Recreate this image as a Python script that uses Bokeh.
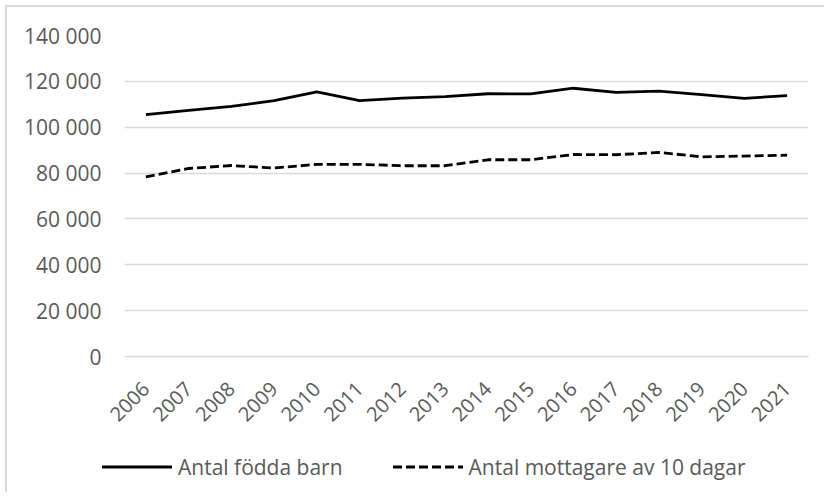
from bokeh.plotting import figure
from bokeh.layouts import column
from bokeh.models import FactorRange, Range1d, FixedTicker, CustomJSTickFormatter, Div
from bokeh.embed import file_html
from bokeh.resources import INLINE
import math

years = ["2006", "2007", "2008", "2009", "2010", "2011", "2012", "2013",
         "2014", "2015", "2016", "2017", "2018", "2019", "2020", "2021"]
fodda_barn = [105500, 107300, 109100, 111600, 115400, 111600, 112700, 113300,
              114600, 114500, 117000, 115200, 115700, 114200, 112600, 113800]
mottagare_10_dagar = [78300, 82000, 83300, 82200, 83800, 83800, 83200, 83200,
                      85800, 85800, 88100, 88000, 89000, 87100, 87400, 87800]
y_ticks = [0, 20000, 40000, 60000, 80000, 100000, 120000, 140000]
series_names = ["Antal födda barn", "Antal mottagare av 10 dagar"]

FONT = "Open Sans"
TXT = "#595959"
GRID = "#d9d9d9"
LW = 2.8
DASH = "9 4"

p = figure(width=817, height=423, output_backend="svg", toolbar_location=None,
           x_range=FactorRange(factors=years, range_padding=0),
           y_range=Range1d(0, 140000),
           min_border_left=117, min_border_right=16, min_border_top=28, min_border_bottom=74)
p.outline_line_color = None
p.background_fill_color = "white"
p.border_fill_color = "white"

p.line(x=years, y=fodda_barn, line_color="black", line_width=LW, line_join="round")
p.line(x=years, y=mottagare_10_dagar, line_color="black", line_width=LW,
       line_dash=DASH, line_join="round")

p.xgrid.grid_line_color = None
p.ygrid.grid_line_color = GRID
p.ygrid.grid_line_width = 1.3
p.yaxis.ticker = FixedTicker(ticks=y_ticks)
p.yaxis.formatter = CustomJSTickFormatter(
    code='return tick.toFixed(0).replace(/\\B(?=(\\d{3})+(?!\\d))/g, " ");')

for ax in (p.xaxis[0], p.yaxis[0]):
    ax.major_label_text_font = FONT
    ax.major_label_text_font_size = "21px"
    ax.major_label_text_color = TXT
    ax.major_tick_line_color = None
    ax.minor_tick_line_color = None
    ax.major_tick_out = 0
    ax.major_tick_in = 0
p.yaxis.axis_line_color = None
p.yaxis.major_label_standoff = 23
p.xaxis.axis_line_color = GRID
p.xaxis.axis_line_width = 1.3
p.xaxis.major_label_orientation = math.pi / 4
p.xaxis.major_label_standoff = 29
p.xaxis.major_label_text_font_size = "20px"


def sample(dash):
    da = f' stroke-dasharray="{dash}"' if dash else ""
    return (f'<svg width="70" height="22" style="display:block;flex:none">'
            f'<line x1="0" y1="11" x2="70" y2="11" stroke="black" stroke-width="{LW}"{da}/></svg>')


def item(label, dash):
    return (f'<div style="display:flex;align-items:center;">{sample(dash)}'
            f'<span style="margin-left:6px;white-space:nowrap;">{label}</span></div>')


legend_html = (
    f'<div style="position:relative;width:817px;height:62px;background:white;">'
    f'<div style="position:absolute;left:95px;top:26px;height:22px;display:flex;'
    f'align-items:center;gap:50px;font-family:\'{FONT}\';font-size:21px;color:{TXT};line-height:22px;">'
    f'{item(series_names[0], None)}{item(series_names[1], DASH)}</div></div>'
)
legend_div = Div(text=legend_html, width=817, height=62, margin=0)

inner = column(p, legend_div, spacing=0,
               styles={"border-left": "2px solid #d9d9d9", "border-top": "2px solid #d9d9d9",
                       "background": "white"})
layout = column(inner, spacing=0,
                styles={"padding-left": "5px", "padding-top": "5px", "background": "white"})

open("out.html", "w").write(file_html(layout, INLINE))
